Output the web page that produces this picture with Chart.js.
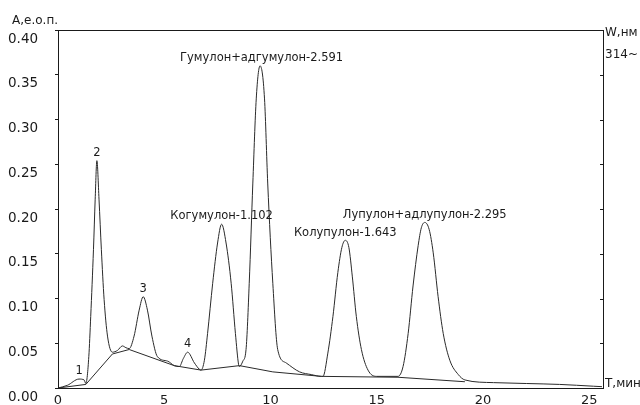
<!DOCTYPE html>
<html>
<head>
<meta charset="utf-8">
<script src="https://cdn.jsdelivr.net/npm/chart.js@4"></script>
<style>
    html, body { margin: 0; padding: 0; background: #fff; }
    #wrap { width: 640px; height: 405px; }
</style>
</head>
<body>
<div id="wrap"><canvas id="chromChart" width="640" height="405"></canvas></div>
<script>
// Retention time (min) and absorbance
const traceTime = [0, 0.44, 0.99, 1.23, 1.31, 1.45, 1.54, 1.67, 1.75, 1.83, 1.93, 2.04, 2.17, 2.33, 2.56, 2.8, 3.03, 3.2, 3.35,
    3.58, 3.82, 4.01, 4.21, 4.42, 4.68, 5.16, 5.47, 5.71, 5.9, 6.1, 6.42, 6.65, 6.73, 6.89, 7.04, 7.28, 7.51, 7.7, 7.91, 8.15,
    8.35, 8.5, 8.54, 8.7, 8.85, 9.0, 9.17, 9.33, 9.51, 9.72, 9.87, 10.11, 10.34, 10.74, 11.37, 11.92, 12.39, 12.47, 12.7,
    12.94, 13.17, 13.36, 13.52, 13.69, 13.85, 14.04, 14.28, 14.59, 14.99, 16.0, 16.24, 16.48, 16.71, 16.95, 17.1, 17.26,
    17.47, 17.66, 17.89, 18.13, 18.44, 18.84, 19.15, 20.5, 22.06, 23.6, 25.2, 25.6];
const traceAbs = [0, 0.003, 0.010, 0.009, 0.005, 0.035, 0.080, 0.155, 0.211, 0.254, 0.211, 0.155, 0.099, 0.058, 0.040, 0.042, 0.047, 0.045, 0.044,
    0.058, 0.087, 0.102, 0.087, 0.058, 0.035, 0.030, 0.025, 0.024, 0.033, 0.040, 0.028, 0.021, 0.020, 0.031, 0.061, 0.117, 0.162, 0.183, 0.162, 0.117,
    0.061, 0.026, 0.024, 0.030, 0.043, 0.117, 0.229, 0.323, 0.360, 0.323, 0.229, 0.117, 0.043, 0.028, 0.018, 0.015, 0.013, 0.013, 0.039,
    0.080, 0.129, 0.157, 0.165, 0.157, 0.125, 0.080, 0.043, 0.020, 0.013, 0.013, 0.024, 0.061, 0.114, 0.159, 0.179, 0.185,
    0.177, 0.151, 0.102, 0.061, 0.031, 0.015, 0.009, 0.006, 0.005, 0.004, 0.002, 0.0015];

// Integration baseline
const baseTime = [0, 1.31, 2.56, 3.35, 5.47, 6.73, 8.54, 10.11, 12.39, 16.0, 19.15];
const baseAbs = [0, 0.004, 0.038, 0.043, 0.025, 0.020, 0.025, 0.018, 0.013, 0.012, 0.007];

// Peak labels
const peakNames = ['1', '2', '3', '4', 'Когумулон-1.102', 'Гумулон+адгумулон-2.591', 'Колупулон-1.643', 'Лупулон+адлупулон-2.295'];
const peakTime = [1.0, 1.83, 4.01, 6.1, 7.7, 9.58, 13.52, 17.26];
const peakAbs = [0.010, 0.254, 0.102, 0.040, 0.183, 0.360, 0.165, 0.185];

const xTicks = [0, 5, 10, 15, 20, 25];
const yTicks = [0, 0.05, 0.10, 0.15, 0.20, 0.25, 0.30, 0.35, 0.40];

const ink = '#1a1a1a';
const font = 'DejaVu Sans';

const toPoints = (xs, ys) => xs.map((x, i) => ({ x: x, y: ys[i] }));

// Frame and text annotations
const annotations = {
    id: 'annotations',
    afterDatasetsDraw(chart) {
        const { ctx, chartArea: a, scales } = chart;
        ctx.save();
        ctx.strokeStyle = ink;
        ctx.lineWidth = 1;
        ctx.strokeRect(Math.round(a.left) + 0.5, Math.round(a.top) + 0.5, Math.round(a.width), Math.round(a.height));

        // small ticks on the inside of the right border
        yTicks.forEach(v => {
            const y = Math.round(scales.y.getPixelForValue(v)) + 0.5;
            ctx.beginPath();
            ctx.moveTo(a.right - 3, y);
            ctx.lineTo(a.right, y);
            ctx.stroke();
        });

        ctx.fillStyle = ink;
        ctx.font = '11.5px ' + font;
        ctx.textAlign = 'center';
        ctx.textBaseline = 'bottom';
        peakNames.forEach((name, i) => {
            const px = scales.x.getPixelForValue(peakTime[i]);
            const py = scales.y.getPixelForValue(peakAbs[i]);
            ctx.fillText(name, px, py - 2);
        });

        ctx.textAlign = 'left';
        ctx.textBaseline = 'middle';
        ctx.font = '12px ' + font;
        ctx.fillText('A,е.о.п.', 12, 21);
        ctx.fillText('W,нм', a.right + 2, 33);
        ctx.fillText('314~', a.right + 2, 55);
        ctx.fillText('Т,мин', a.right + 2, scales.y.getPixelForValue(0) - 4);
        ctx.restore();
    }
};

const ctx = document.getElementById('chromChart').getContext('2d');
const chromChart = new Chart(ctx, {
    type: 'line',
    data: {
        datasets: [{
            label: 'Хроматограмма',
            data: toPoints(traceTime, traceAbs),
            borderColor: '#2a2a2a',
            borderWidth: 1,
            pointRadius: 0,
            cubicInterpolationMode: 'monotone',
            fill: false
        }, {
            label: 'Базовая линия',
            data: toPoints(baseTime, baseAbs),
            borderColor: '#2a2a2a',
            borderWidth: 1,
            pointRadius: 0,
            tension: 0,
            fill: false
        }]
    },
    options: {
        responsive: false,
        animation: false,
        layout: {
            padding: { left: 8, top: 30, right: 0, bottom: 0 }
        },
        plugins: {
            legend: { display: false },
            tooltip: { enabled: false }
        },
        scales: {
            x: {
                type: 'linear',
                min: 0,
                max: 25.65,
                afterBuildTicks: scale => { scale.ticks = xTicks.map(v => ({ value: v })); },
                afterFit: scale => { scale.height = 17; },
                border: { display: false },
                grid: { display: false },
                ticks: {
                    color: ink,
                    padding: -3,
                    maxRotation: 0,
                    font: { family: font, size: 13 }
                }
            },
            y: {
                min: 0,
                max: 0.4,
                afterBuildTicks: scale => { scale.ticks = yTicks.map(v => ({ value: v })); },
                afterFit: scale => { scale.width = 50; },
                border: { display: false },
                grid: { drawOnChartArea: false, tickLength: 3, color: ink },
                ticks: {
                    color: ink,
                    crossAlign: 'far',
                    labelOffset: 9,
                    padding: 2,
                    callback: value => value.toFixed(2),
                    font: { family: font, size: 13.5 }
                }
            },
            y2: {
                position: 'right',
                min: 0,
                max: 0.4,
                afterFit: scale => { scale.width = 37; },
                border: { display: false },
                grid: { display: false },
                ticks: { display: false }
            }
        }
    },
    plugins: [annotations]
});
</script>
</body>
</html>
